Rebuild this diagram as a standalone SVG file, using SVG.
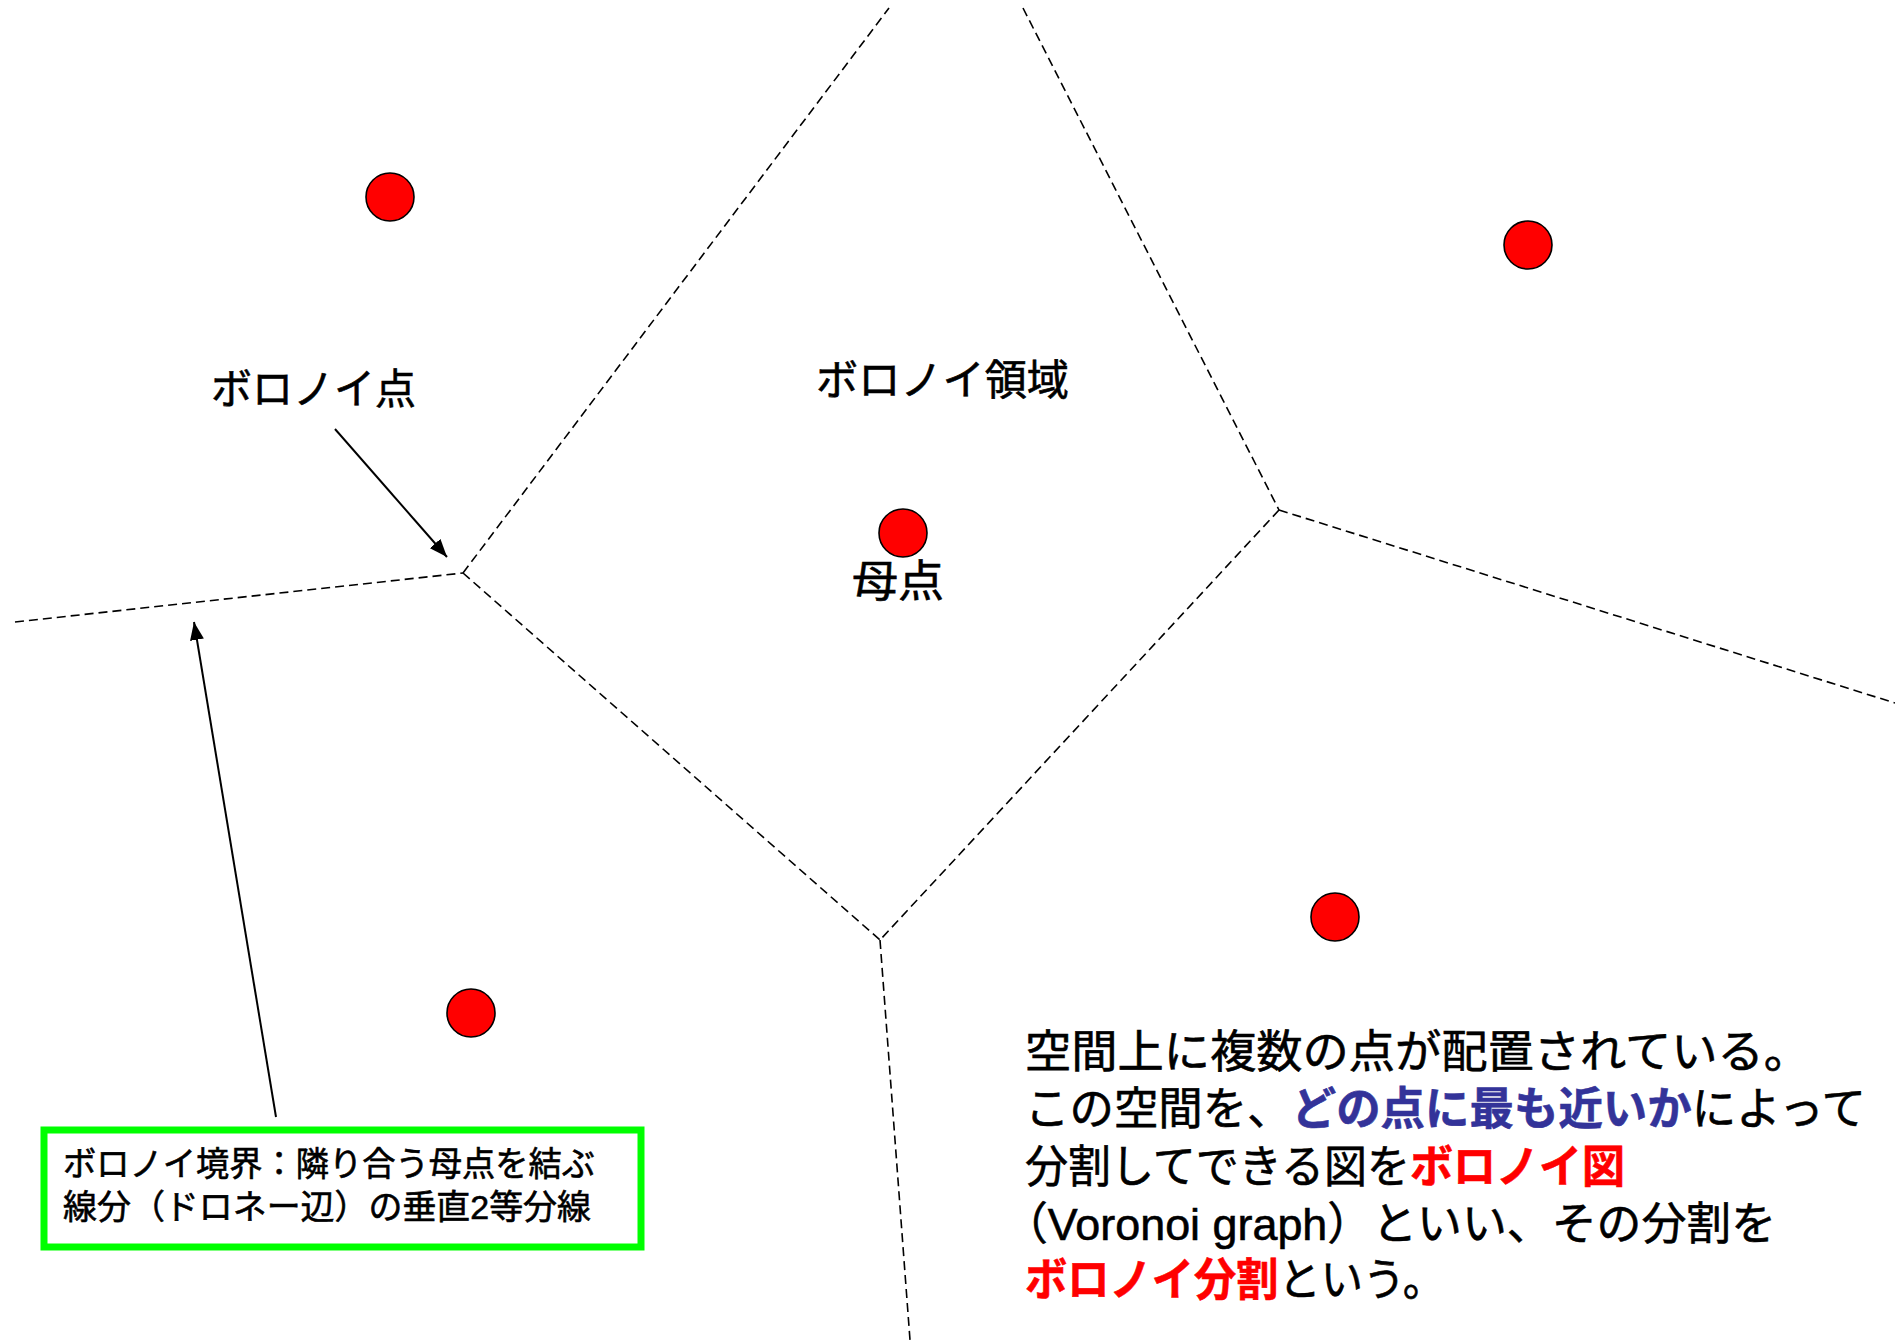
<svg xmlns="http://www.w3.org/2000/svg" width="1895" height="1340" viewBox="0 0 1895 1340">
<style>
.bnd{fill:none;stroke:#000;stroke-width:1.6;stroke-dasharray:9 5}
.arr{fill:none;stroke:#000;stroke-width:2}
.pt{fill:#FF0000;stroke:#000;stroke-width:1.6}
.lbl{font-family:"Liberation Sans","Noto Sans CJK JP",sans-serif;fill:#000;stroke:#000;stroke-width:0.6}
.red{fill:#FF0000;stroke:#FF0000;font-weight:bold}
.blue{fill:#333399;stroke:#333399;font-weight:bold}
</style>
<defs>
<marker id="ah" viewBox="0 0 18 14" refX="18" refY="7" markerWidth="18" markerHeight="14" markerUnits="userSpaceOnUse" orient="auto">
<path d="M0,0 L18,7 L0,14 z" fill="#000"/>
</marker>
</defs>
<rect width="1895" height="1340" fill="#fff"/>
<g id="connectors">
<line class="bnd" x1="15" y1="622" x2="463" y2="573"/>
<line class="bnd" x1="463" y1="573" x2="889" y2="8"/>
<line class="bnd" x1="463" y1="573" x2="880" y2="940"/>
<line class="bnd" x1="1023" y1="8" x2="1279" y2="510"/>
<line class="bnd" x1="1279" y1="510" x2="1895" y2="703"/>
<line class="bnd" x1="1279" y1="510" x2="880" y2="940"/>
<line class="bnd" x1="880" y1="940" x2="910" y2="1340"/>
<line class="arr" x1="335" y1="429" x2="447" y2="557" marker-end="url(#ah)"/>
<line class="arr" x1="276" y1="1117" x2="194" y2="622" marker-end="url(#ah)"/>
</g>
<g id="p1"><circle class="pt" cx="390" cy="197" r="24"/></g>
<g id="p2"><circle class="pt" cx="1528" cy="245" r="24"/></g>
<g id="p3"><circle class="pt" cx="903" cy="533" r="24"/></g>
<g id="p4"><circle class="pt" cx="1335" cy="917" r="24"/></g>
<g id="p5"><circle class="pt" cx="471" cy="1013" r="24"/></g>
<g id="label-vpoint"><text class="lbl" x="211" y="404" font-size="42" textLength="205" lengthAdjust="spacingAndGlyphs">ボロノイ点</text></g>
<g id="label-region"><text class="lbl" x="816" y="395" font-size="42" textLength="253" lengthAdjust="spacingAndGlyphs">ボロノイ領域</text></g>
<g id="label-gen"><text class="lbl" x="852" y="597" font-size="44" textLength="92" lengthAdjust="spacingAndGlyphs">母点</text></g>
<g id="boundary-box">
<rect x="44" y="1130" width="597" height="117" fill="#fff" stroke="#00FF00" stroke-width="7"/>
<text class="lbl" x="63" y="1176" font-size="34" textLength="532" lengthAdjust="spacingAndGlyphs">ボロノイ境界：隣り合う母点を結ぶ</text>
<text class="lbl" x="63" y="1219" font-size="34" textLength="528" lengthAdjust="spacingAndGlyphs">線分（ドロネー辺）の垂直2等分線</text>
</g>
<g id="explanation">
<text class="lbl" x="1025" y="1068" font-size="45" textLength="785" lengthAdjust="spacingAndGlyphs">空間上に複数の点が配置されている。</text>
<text class="lbl" x="1025" y="1125" font-size="45" textLength="841" lengthAdjust="spacingAndGlyphs">この空間を、<tspan class="blue">どの点に最も近いか</tspan>によって</text>
<text class="lbl" x="1025" y="1183" font-size="45" textLength="600" lengthAdjust="spacingAndGlyphs">分割してできる図を<tspan class="red">ボロノイ図</tspan></text>
<text class="lbl" x="1003" y="1240" font-size="45" textLength="773" lengthAdjust="spacingAndGlyphs">（Voronoi graph）といい、その分割を</text>
<text class="lbl" x="1025" y="1296" font-size="45" textLength="420" lengthAdjust="spacingAndGlyphs"><tspan class="red">ボロノイ分割</tspan>という。</text>
</g>
</svg>
